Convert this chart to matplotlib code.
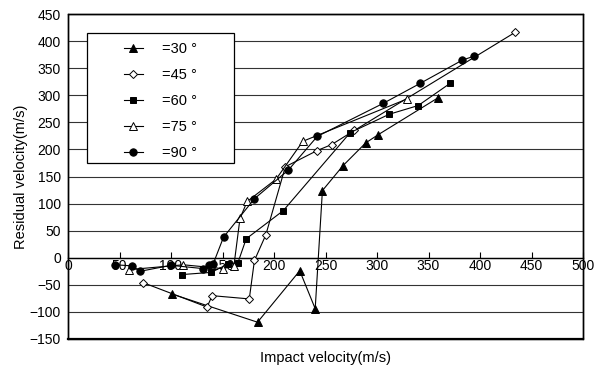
import matplotlib
matplotlib.use("Agg")
import matplotlib.pyplot as plt
from matplotlib.patches import Rectangle

plt.rcParams['font.family'] = ['Liberation Sans', 'DejaVu Sans']

a30_x = [101, 184, 225, 240, 247, 267, 289, 301, 359]
a30_y = [-67, -119, -24, -94, 124, 170, 212, 227, 295]

a45_x = [73, 135, 140, 176, 181, 192, 211, 242, 256, 278, 434]
a45_y = [-46, -91, -70, -76, -5, 42, 168, 198, 209, 235, 416]

a60_x = [111, 139, 155, 165, 173, 209, 274, 312, 340, 371]
a60_y = [-31, -27, -12, -9, 35, 87, 231, 265, 281, 322]

a75_x = [59, 112, 150, 161, 167, 174, 202, 228, 329]
a75_y = [-22, -13, -20, -16, 73, 104, 145, 215, 293]

a90_x = [46, 62, 70, 100, 131, 137, 141, 151, 181, 214, 242, 306, 342, 383, 394]
a90_y = [-13, -15, -25, -14, -20, -14, -11, 38, 109, 162, 224, 285, 322, 365, 372]

labels = ["=30 °", "=45 °", "=60 °", "=75 °", "=90 °"]
x_ticks = list(range(0, 501, 50))
y_ticks = list(range(-150, 451, 50))

W, H = 599, 367
fig = plt.figure(figsize=(W / 100, H / 100), dpi=100)
L, R, T, B = 68, 583, 14, 339
ax = fig.add_axes([L / W, (H - B) / H, (R - L) / W, (B - T) / H])

series = [
    (a30_x, a30_y, dict(marker='^', mfc='black', ms=5.3)),
    (a45_x, a45_y, dict(marker='D', mfc='white', ms=4.2)),
    (a60_x, a60_y, dict(marker='s', mfc='black', ms=4.8)),
    (a75_x, a75_y, dict(marker='^', mfc='white', ms=5.3)),
    (a90_x, a90_y, dict(marker='o', mfc='black', ms=5.3)),
]
handles = []
for (xs, ys, st), lab in zip(series, labels):
    h, = ax.plot(xs, ys, color='black', lw=0.8, mec='black', mew=0.7,
                 label=lab, zorder=3, **st)
    handles.append(h)

ax.set_xlim(0, 500)
ax.set_ylim(-150, 450)
ax.set_xticks(x_ticks)
ax.set_yticks(y_ticks)
ax.set_axisbelow(True)
ax.yaxis.grid(True, color='#333333', lw=0.8)

for s in ['left', 'right', 'top']:
    ax.spines[s].set_linewidth(1.0)
ax.spines['bottom'].set_position(('data', 0))
ax.spines['bottom'].set_linewidth(1.0)
ax.patch.set_edgecolor('black')
ax.patch.set_linewidth(1.0)
ax.axhline(-150, color='black', lw=1.6, clip_on=False, zorder=5)

ax.tick_params(axis='x', direction='in', length=4, width=0.8, pad=1, labelsize=10)
ax.tick_params(axis='y', direction='out', length=0, pad=5, labelsize=10)

ax.set_xlabel("Impact velocity(m/s)", fontsize=10.5, labelpad=0)
ax.xaxis.set_label_coords(0.5, -0.036)
ax.set_ylabel("Residual velocity(m/s)", fontsize=10.5, labelpad=1)

# legend frame
lx0, ly0, lx1, ly1 = 87, 33, 234, 163
rect = Rectangle(((lx0 - L) / (R - L), (B - ly1) / (B - T)),
                 (lx1 - lx0) / (R - L), (ly1 - ly0) / (B - T),
                 transform=ax.transAxes, facecolor='white', edgecolor='black',
                 lw=0.9, zorder=4)
ax.add_patch(rect)
leg = ax.legend(handles=handles, loc='upper left', frameon=False,
                bbox_to_anchor=((124 - L) / (R - L), (B - 42) / (B - T)),
                borderaxespad=0, borderpad=0, fontsize=10.5,
                handlelength=1.3, handletextpad=1.3, labelspacing=0.83)
leg.set_zorder(6)

fig.savefig("out.png", dpi=100)
